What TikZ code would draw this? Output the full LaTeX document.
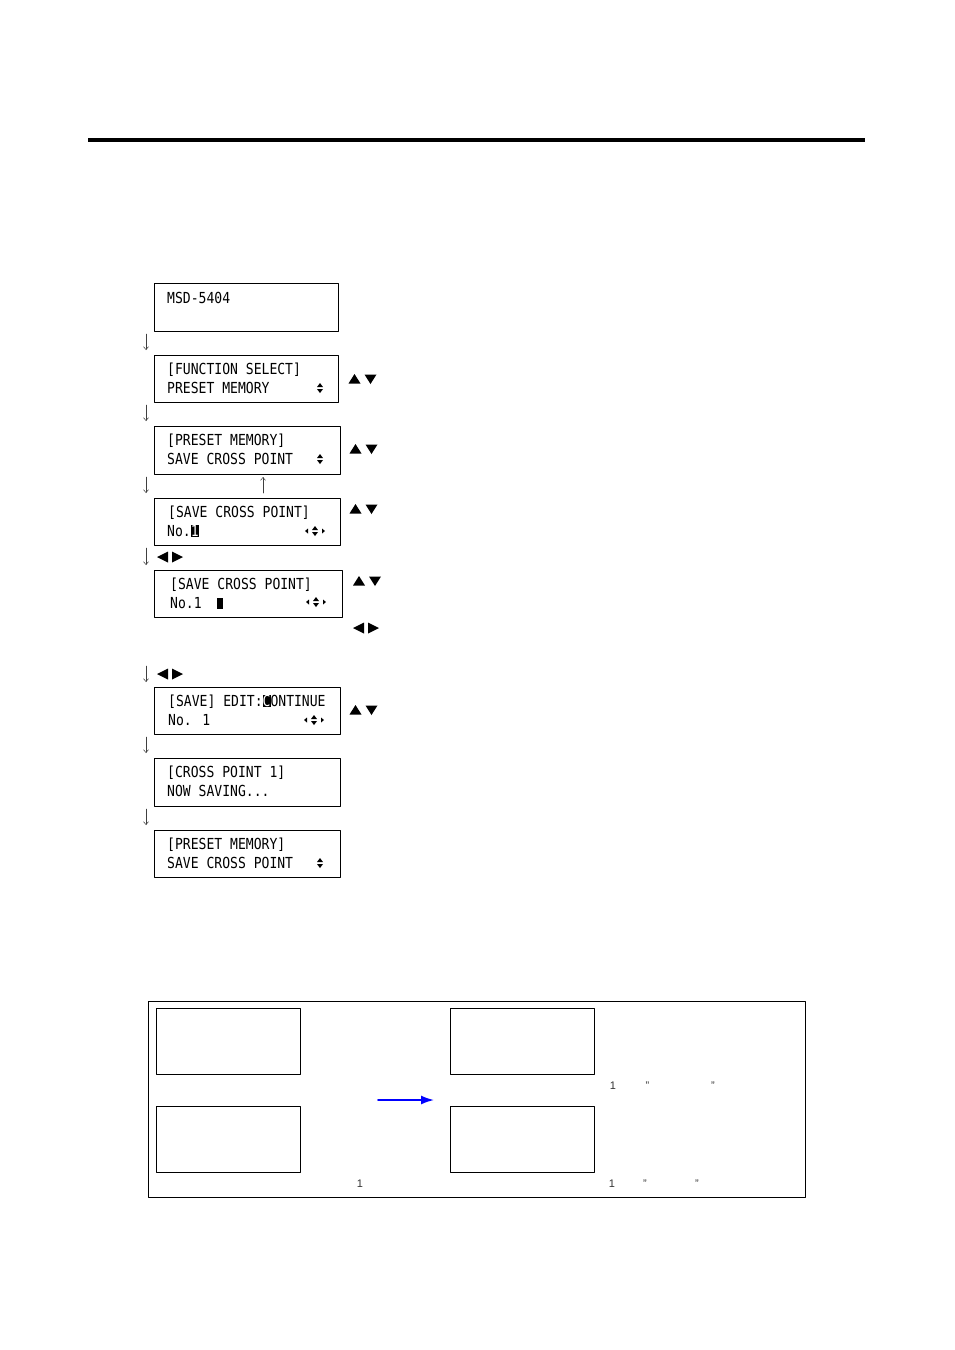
\documentclass[tikz,border=0pt]{standalone}
\usepackage{fontspec}
\setmainfont{Liberation Sans}
\newfontfamily\lcdfont[FakeStretch=0.86]{DejaVu Sans Mono}
\usetikzlibrary{arrows.meta}
% inverted character and cursor on the display
\newcommand{\lcdinv}[1]{{\setlength{\fboxsep}{0pt}\colorbox{black}{\textcolor{white}{#1}}}}
\newcommand{\lcdcur}{\rule{6pt}{11pt}}
\tikzset{
  lcd/.style={draw, line width=0.9pt, inner sep=0pt, outer sep=0pt, anchor=north west},
  lcdtxt/.style={anchor=base west, inner sep=0pt, font=\lcdfont\fontsize{15.2}{18}\selectfont},
  stepar/.style={line width=0.5pt, black!75, -{Straight Barb[length=3pt,width=5pt]}},
  note/.style={anchor=base, inner sep=0pt, text=black!80, font=\fontsize{11}{13}\selectfont},
  pics/updn/.style={code={
    \fill (-3,-1)--(3,-1)--(0,-5)--cycle;
    \fill (-3,1)--(3,1)--(0,5)--cycle;}},
  pics/lrud/.style={code={
    \pic {updn};
    \fill (-7,-2.5)--(-7,2.5)--(-10,0)--cycle;
    \fill (7,-2.5)--(7,2.5)--(10,0)--cycle;}},
  pics/keyud/.style={code={
    \fill (-14,4.5)--(-2,4.5)--(-8,-5)--cycle;
    \fill (2,-4.5)--(14,-4.5)--(8,5)--cycle;}},
  pics/keylr/.style={code={
    \fill (-13,0)--(-2,-5.5)--(-2,5.5)--cycle;
    \fill (2,-5.5)--(2,5.5)--(13,0)--cycle;}}
}
\begin{document}
\begin{tikzpicture}[x=1pt, y=-1pt, line join=round, line cap=round, >=stealth]
  \useasboundingbox (0,0) rectangle (954,1350);

  % Top rule
  \draw[line width=3.5pt, line cap=butt] (88,140) -- (865,140);

  % Display boxes
  \foreach \n/\t/\b/\r in {1/283/331/338, 2/355/402/338, 3/426/474/340, 4/498/545/340,
                           5/570/617/342, 6/687/734/340, 7/758/806/340, 8/830/877/340}
    \node[lcd, minimum width={\r-154}, minimum height={\b-\t}] (b\n) at (154,\t) {};

  % Display texts
  \node[lcdtxt] (t1) at (167,303) {MSD-5404};
  \node[lcdtxt] (t2a) at (167,374.5) {[FUNCTION SELECT]};
  \node[lcdtxt] (t2b) at (167,393.5) {PRESET MEMORY};
  \node[lcdtxt] (t3a) at (167,445.5) {[PRESET MEMORY]};
  \node[lcdtxt] (t3b) at (167,464.5) {SAVE CROSS POINT};
  \node[lcdtxt] (t4a) at (168,517.5) {[SAVE CROSS POINT]};
  \node[lcdtxt] (t4b) at (167,536.5) {No.\lcdinv{1}};
  \node[lcdtxt] (t5a) at (170,589.5) {[SAVE CROSS POINT]};
  \node[lcdtxt] (t5b) at (170,608.5) {No.1~~\lcdcur};
  \node[lcdtxt] (t6a) at (168,706.5) {[SAVE] EDIT:\lcdinv{C}ONTINUE};
  \node[lcdtxt] (t6b) at (168,725.5) {No. 1};
  \node[lcdtxt] (t7a) at (167,777.5) {[CROSS POINT 1]};
  \node[lcdtxt] (t7b) at (167,796.5) {NOW SAVING...};
  \node[lcdtxt] (t8a) at (167,849.5) {[PRESET MEMORY]};
  \node[lcdtxt] (t8b) at (167,868.5) {SAVE CROSS POINT};

  % Small cursor marks inside the displays
  \foreach \y in {388,459,863} \pic at (320,\y) {updn};
  \pic at (315,531) {lrud};
  \pic at (316,602) {lrud};
  \pic at (314,720) {lrud};

  % Key marks
  \pic at (362.5,379) {keyud};
  \pic at (363.5,449) {keyud};
  \pic at (363.5,509) {keyud};
  \pic at (367,581) {keyud};
  \pic at (363.5,710) {keyud};
  \pic at (170,557) {keylr};
  \pic at (366,628) {keylr};
  \pic at (170,674) {keylr};

  % Step arrows
  \foreach \a/\b in {1/2,2/3,3/4,4/5,6/7,7/8}
    \draw[stepar] ([shift={(-8,3)}]b\a.south west) -- ([shift={(-8,-5)}]b\b.north west);
  \draw[stepar] ([shift={(-8,-21)}]b6.north west) -- ([shift={(-8,-5)}]b6.north west);
  \draw[stepar] ([shift={(109,-5)}]b4.north west) -- ([shift={(109,3)}]b3.south west);

  % Lower panel
  \node[lcd, line width=0.9pt, minimum width=657, minimum height=196] (pan) at (148,1001) {};
  \node[lcd, minimum width=144, minimum height=66] (p1) at (156,1008) {};
  \node[lcd, minimum width=144, minimum height=66] (p2) at (156,1106) {};
  \node[lcd, minimum width=144, minimum height=66] (p3) at (450,1008) {};
  \node[lcd, minimum width=144, minimum height=66] (p4) at (450,1106) {};
  \coordinate (al) at (378,1100);
  \coordinate (ar) at (434,1100);
  \draw[line width=1.6pt, blue, -{Latex[length=13pt,width=9pt]}] (al) -- (ar);

  % Panel notes
  \node[note] (n1) at (360,1187) {1};
  \node[note] (n2) at (613,1089) {1};
  \node[note] (n3) at (647.5,1089) {”};
  \node[note] (n4) at (713,1089) {”};
  \node[note] (n5) at (612,1187) {1};
  \node[note] (n6) at (645,1187) {”};
  \node[note] (n7) at (697,1187) {”};
\end{tikzpicture}
\end{document}
